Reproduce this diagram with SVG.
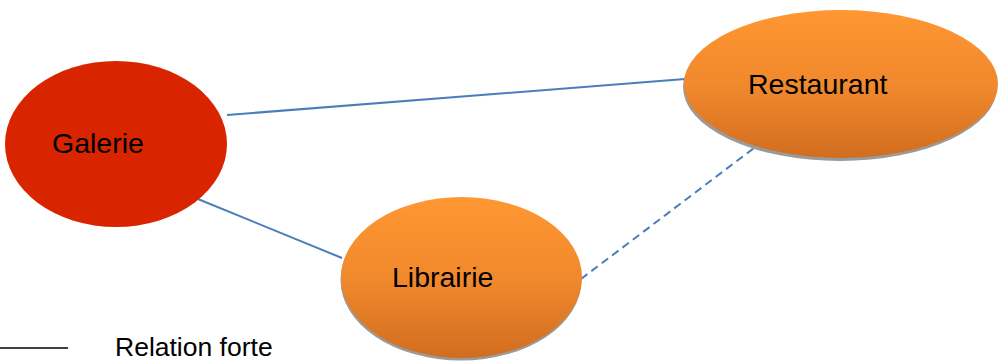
<svg xmlns="http://www.w3.org/2000/svg" width="998" height="361" viewBox="0 0 998 361">
<defs>
<linearGradient id="org" x1="0" y1="0" x2="0" y2="1">
<stop offset="0" stop-color="#FF9733"/>
<stop offset="0.5" stop-color="#F1892D"/>
<stop offset="1" stop-color="#D16D1F"/>
</linearGradient>
</defs>
<style>
.lbl{font-family:"Liberation Sans",Arial,sans-serif;font-size:28.5px;fill:#000}
.leg{font-family:"Liberation Sans",Arial,sans-serif;font-size:26.5px;fill:#000}
.shadow{fill:#9a9a9a}
.edge{stroke:#4A7EBB;stroke-width:2;fill:none}
</style>
<rect width="998" height="361" fill="#fff"/>
<g id="connectors">
<line class="edge" x1="227" y1="115" x2="685" y2="79"/>
<line class="edge" x1="193" y1="197" x2="342" y2="258"/>
<line class="edge" x1="581" y1="279" x2="754" y2="148" stroke-dasharray="8,5"/>
</g>
<g id="galerie">
<ellipse cx="116" cy="144" rx="111" ry="83" fill="#D92400"/>
<text class="lbl" x="52" y="153">Galerie</text>
</g>
<g id="restaurant">
<ellipse class="shadow" cx="840" cy="87" rx="157" ry="74"/>
<ellipse cx="841" cy="84" rx="157" ry="74" fill="url(#org)"/>
<text class="lbl" x="748" y="94">Restaurant</text>
</g>
<g id="librairie">
<ellipse class="shadow" cx="461" cy="280" rx="120.5" ry="80.5"/>
<ellipse cx="461.5" cy="277.5" rx="120.5" ry="80.5" fill="url(#org)"/>
<text class="lbl" x="392" y="287">Librairie</text>
</g>
<g id="legend">
<line x1="0" y1="348" x2="68" y2="348" stroke="#000" stroke-width="1.5"/>
<text class="leg" x="115" y="356">Relation forte</text>
</g>
</svg>
